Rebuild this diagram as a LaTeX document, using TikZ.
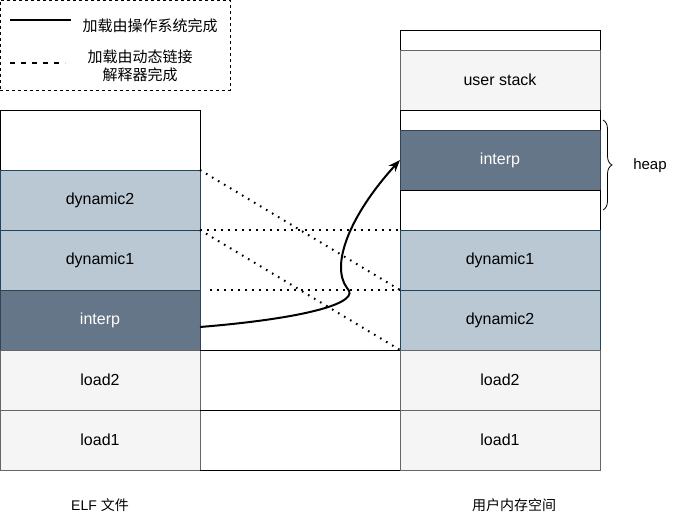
\documentclass[tikz,border=0pt]{standalone}
\usepackage{fontspec}
\setmainfont{Liberation Sans}
\newfontfamily\cjk{Noto Sans CJK SC}
\usepackage{tikz}
\usetikzlibrary{arrows.meta,positioning,decorations.pathreplacing}
\definecolor{dynfill}{HTML}{BAC8D3}
\definecolor{dynline}{HTML}{23445D}
\definecolor{interpfill}{HTML}{647687}
\definecolor{interpline}{HTML}{314354}
\definecolor{loadfill}{HTML}{F5F5F5}
\definecolor{loadline}{HTML}{666666}

\begin{document}
\begin{tikzpicture}[
  x=1pt,y=-1pt,
  node distance=0pt,
  seg/.style={draw,minimum width=200pt,minimum height=60pt,outer sep=0pt,
              inner sep=0pt,font=\fontsize{16}{19}\selectfont},
  free/.style={seg,draw=black,fill=white},
  dyn/.style={seg,draw=dynline,fill=dynfill},
  interp/.style={seg,draw=interpline,fill=interpfill,text=white},
  load/.style={seg,draw=loadline,fill=loadfill},
  link/.style={line width=2pt,dash pattern=on 1.6pt off 5.4pt},
  maparrow/.style={-{Stealth[length=12pt,width=9pt]},line width=2pt},
  legtext/.style={font=\fontsize{15}{18}\selectfont\cjk,align=center}
]
  \useasboundingbox (0,0) rectangle (681,521);

  % legend
  \node[draw,dashed,minimum width=230pt,minimum height=90pt,outer sep=0pt] (legend) at (115,45) {};
  \coordinate (solidA) at (10,20);
  \coordinate (solidB) at (71,20);
  \coordinate (dashA) at (10,63);
  \coordinate (dashB) at (65,63);
  \draw[line width=2pt] (solidA) -- (solidB);
  \draw[line width=2pt,dash pattern=on 5pt off 6pt] (dashA) -- (dashB);
  \node[legtext] (legsolid) at (150,26) {加载由操作系统完成};
  \node[legtext] (legdash) at (140,66) {加载由动态链接\\解释器完成};

  % ELF file
  \node[free] (lfree) at (100,140) {};
  \node[dyn,below=of lfree] (ldyn2) {dynamic2};
  \node[dyn,below=of ldyn2] (ldyn1) {dynamic1};
  \node[interp,below=of ldyn1] (linterp) {interp};
  \node[load,below=of linterp] (lload2) {load2};
  \node[load,below=of lload2] (lload1) {load1};

  % user memory
  \node[free,minimum height=20pt] (rtop) at (500,40) {};
  \node[load,below=of rtop] (rstack) {user stack};
  \node[free,minimum height=20pt,below=of rstack] (rfree1) {};
  \node[interp,below=of rfree1] (rinterp) {interp};
  \node[free,minimum height=40pt,below=of rinterp] (rfree2) {};
  \node[dyn,below=of rfree2] (rdyn1) {dynamic1};
  \node[dyn,below=of rdyn1] (rdyn2) {dynamic2};
  \node[load,below=of rdyn2] (rload2) {load2};
  \node[load,below=of rload2] (rload1) {load1};

  % mappings
  \draw[link] (ldyn2.north east) -- (rdyn2.north west);
  \draw[link] (ldyn2.south east) -- (rdyn2.south west);
  \draw[link] (ldyn1.north east) -- (rdyn1.north west);
  \draw[link,shorten <=10pt] (ldyn1.south east) -- (rdyn1.south west);
  \draw[thick] (linterp.south east) -- (rload2.north west);
  \draw[thick] (lload2.south east) -- (rload1.north west);
  \draw[thick] (lload1.south east) -- (rload1.south west);
  \draw[maparrow] ([yshift=-7pt]linterp.east)
    .. controls (310,318) and (362,302) .. (347,288)
    .. controls (330,265) and (350,215) .. (rinterp.west);

  \draw[decorate,decoration={brace,amplitude=9pt},thick]
    ([xshift=3pt]rfree1.east) -- ([xshift=3pt]rfree2.east);
  \node[font=\fontsize{15}{18}\selectfont] (heap) at (650,166) {heap};

  \node[font=\fontsize{14}{17}\selectfont] (elf) at (100,505) {ELF {\cjk 文件}};
  \node[font=\fontsize{14}{17}\selectfont\cjk] (mem) at (514,505) {用户内存空间};
\end{tikzpicture}
\end{document}
